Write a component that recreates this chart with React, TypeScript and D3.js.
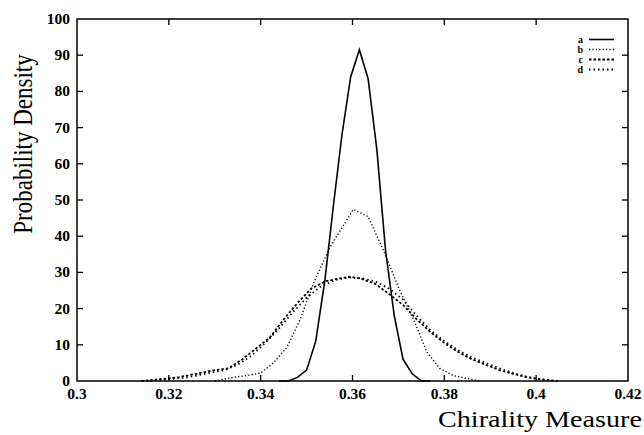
import React, { useRef, useEffect } from "react";
import * as d3 from "d3";

// curve a (solid)
const aX = [0.344, 0.346, 0.348, 0.35, 0.352, 0.354, 0.3558, 0.3577, 0.3596, 0.3615, 0.3634, 0.3653, 0.3672, 0.3691, 0.371, 0.373, 0.375, 0.377];
const aY = [0, 0, 1, 3, 11, 28, 48, 68, 84, 91.5, 83.5, 64, 36, 18, 6, 2, 0, 0];

// curve b (fine dots)
const bX = [0.33, 0.334, 0.337, 0.34, 0.3427, 0.3457, 0.3486, 0.3515, 0.3551, 0.3602, 0.3634, 0.3667, 0.3703, 0.3733, 0.3762, 0.379, 0.382, 0.3849, 0.388];
const bY = [0, 1, 1.5, 2.2, 4.9, 9.3, 17, 27, 37, 47.4, 45.4, 36.2, 25, 17, 8, 3.5, 1.5, 0.7, 0];

// curve c (dashes)
const cX = [0.314, 0.318, 0.322, 0.326, 0.33, 0.333, 0.336, 0.339, 0.342, 0.345, 0.348, 0.351, 0.354, 0.357, 0.3595, 0.362, 0.365, 0.368, 0.371, 0.374, 0.377, 0.38, 0.383, 0.386, 0.389, 0.392, 0.395, 0.398, 0.401, 0.404];
const cY = [0, 0.5, 1, 2, 3, 3.5, 6, 9, 12, 17, 21.5, 25.5, 27.5, 28.3, 28.8, 28.2, 26.8, 24, 21, 17, 13.5, 10.5, 8, 6, 4.5, 3, 2, 1, 0.4, 0];

// curve d (dots)
const dX = [0.316, 0.32, 0.324, 0.328, 0.332, 0.335, 0.338, 0.341, 0.344, 0.347, 0.35, 0.353, 0.356, 0.359, 0.362, 0.365, 0.368, 0.371, 0.374, 0.377, 0.38, 0.383, 0.386, 0.389, 0.392, 0.395, 0.398, 0.401, 0.405];
const dY = [0, 0.5, 1, 2, 3, 4.5, 7, 10.5, 14.5, 19, 23, 26, 27.8, 28.6, 28.4, 27.5, 25.5, 22.5, 18, 14, 11, 8.5, 6.5, 5, 3.5, 2.2, 1.2, 0.5, 0];

const xTicks = [0.3, 0.32, 0.34, 0.36, 0.38, 0.4, 0.42];
const yTicks = [0, 10, 20, 30, 40, 50, 60, 70, 80, 90, 100];
const names = ["a", "b", "c", "d"];

const FONT = '"Liberation Serif", "DejaVu Serif", serif';

export default function App() {
  const svgRef = useRef<SVGSVGElement>(null);

  useEffect(() => {
    const svg = d3.select(svgRef.current);
    svg.selectAll("*").remove();

    const left = 77, right = 628, top = 19, bottom = 381;
    const x = d3.scaleLinear().domain([0.3, 0.42]).range([left, right]);
    const y = d3.scaleLinear().domain([0, 100]).range([bottom, top]);

    // frame
    svg.append("rect")
      .attr("x", left).attr("y", top)
      .attr("width", right - left).attr("height", bottom - top)
      .attr("fill", "none").attr("stroke", "#000").attr("stroke-width", 1.5);

    // ticks (inward, mirrored)
    const tl = 6;
    const g = svg.append("g").attr("stroke", "#000").attr("stroke-width", 1.3);
    xTicks.slice(1, -1).forEach(t => {
      g.append("line").attr("x1", x(t)).attr("x2", x(t)).attr("y1", bottom).attr("y2", bottom - tl);
      g.append("line").attr("x1", x(t)).attr("x2", x(t)).attr("y1", top).attr("y2", top + tl);
    });
    yTicks.slice(1, -1).forEach(t => {
      g.append("line").attr("x1", left).attr("x2", left + tl).attr("y1", y(t)).attr("y2", y(t));
      g.append("line").attr("x1", right).attr("x2", right - tl).attr("y1", y(t)).attr("y2", y(t));
    });

    // tick labels
    svg.append("g").selectAll("text").data(xTicks).join("text")
      .attr("x", d => x(d)).attr("y", bottom + 18)
      .attr("text-anchor", "middle")
      .attr("font-family", FONT).attr("font-size", 15.5).attr("font-weight", "bold")
      .text(d => String(d));
    svg.append("g").selectAll("text").data(yTicks).join("text")
      .attr("x", left - 7).attr("y", d => y(d) + 5)
      .attr("text-anchor", "end")
      .attr("font-family", FONT).attr("font-size", 15.5).attr("font-weight", "bold")
      .text(d => String(d));

    // axis titles (scan is wider than tall, so glyphs are stretched sideways)
    svg.append("text")
      .attr("x", 438).attr("y", 427)
      .attr("font-family", FONT).attr("font-size", 23)
      .attr("textLength", 204).attr("lengthAdjust", "spacingAndGlyphs")
      .text("Chirality Measure");
    svg.append("text")
      .attr("transform", `translate(32, 144) rotate(-90) scale(1, 1.2)`)
      .attr("text-anchor", "middle")
      .attr("font-family", FONT).attr("font-size", 23)
      .text("Probability Density");

    const series = [
      { xs: aX, ys: aY, dash: null, w: 1.6 },
      { xs: bX, ys: bY, dash: "1.2,2.2", w: 1.4 },
      { xs: cX, ys: cY, dash: "2.5,2", w: 1.8 },
      { xs: dX, ys: dY, dash: "1.5,3", w: 1.8 },
    ];

    const line = d3.line<[number, number]>().x(d => x(d[0])).y(d => y(d[1]));
    series.forEach(s => {
      const pts = s.xs.map((v, i) => [v, s.ys[i]] as [number, number]);
      svg.append("path")
        .attr("d", line(pts))
        .attr("fill", "none").attr("stroke", "#000")
        .attr("stroke-width", s.w)
        .attr("stroke-dasharray", s.dash);
    });

    // legend
    const lg = svg.append("g");
    series.forEach((s, i) => {
      const ly = 39.5 + i * 10;
      lg.append("text")
        .attr("x", 583).attr("y", ly + 3)
        .attr("text-anchor", "end")
        .attr("font-family", FONT).attr("font-size", 10).attr("font-weight", "bold")
        .text(names[i]);
      lg.append("line")
        .attr("x1", 589).attr("x2", 614).attr("y1", ly).attr("y2", ly)
        .attr("stroke", "#000").attr("stroke-width", s.w)
        .attr("stroke-dasharray", s.dash);
    });
  }, []);

  return (
    <svg
      ref={svgRef}
      width={644}
      height={435}
      style={{ position: "absolute", left: 0, top: 0, background: "#fff" }}
    />
  );
}
